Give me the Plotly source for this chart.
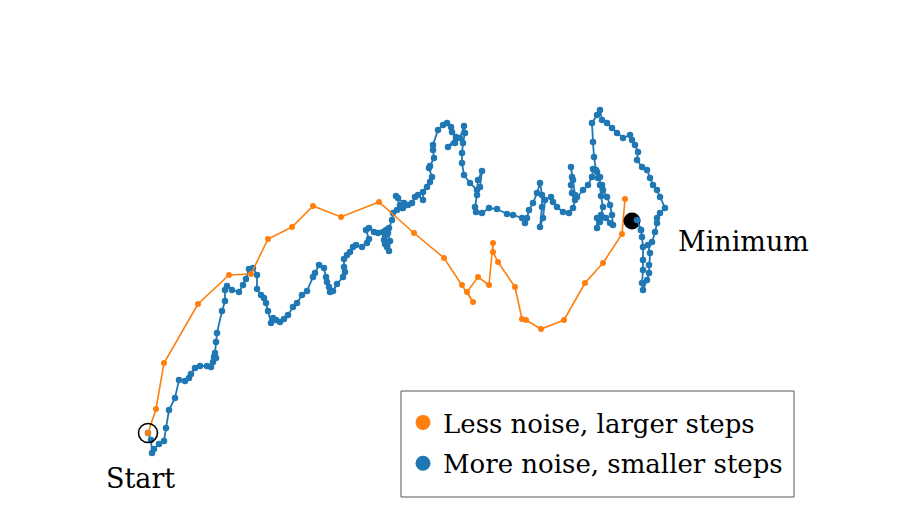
import plotly.graph_objects as go

W, H = 914, 520

# Orange path (less noise, larger steps) - picture coordinates (x right, y down)
orange_x = [148, 156, 164, 198, 229, 251, 268, 292, 313, 341, 379, 414, 444, 462, 473, 467, 478, 489, 493, 493, 498, 515, 522, 526, 541, 564, 585, 603, 622, 625]
orange_y = [433, 409, 363, 304, 275, 274, 239, 227, 206, 217, 202, 233, 258, 285, 302, 292, 277, 285, 243, 252, 262, 287, 319, 320, 329, 320, 283, 263, 234, 199]

# Blue path (more noise, smaller steps)
blue_pts = [
    (148, 433), (151, 440), (152, 453), (154, 449), (159, 444), (164, 441), (166, 428), (169, 410),
    (175, 398), (179, 380), (185, 381), (189, 378), (191, 374), (195, 368), (200, 366), (207, 366),
    (211, 367), (213, 362), (214, 357), (216, 358), (215, 353), (216, 342), (217, 333), (222, 311),
    (225, 301), (225, 290), (227, 286), (232, 290), (239, 292), (243, 285), (246, 279), (249, 269),
    (253, 268), (257, 275), (257, 289), (261, 295), (264, 298), (266, 303), (268, 311), (271, 323),
    (273, 318), (276, 320), (280, 322), (284, 319), (288, 315), (293, 307), (297, 303), (302, 295),
    (307, 291), (313, 277), (315, 273), (319, 265), (324, 268), (326, 277), (327, 282), (329, 287),
    (330, 292), (333, 291), (337, 284), (343, 277), (345, 272), (344, 267), (344, 259), (347, 255),
    (350, 252), (353, 247), (356, 245), (362, 247), (367, 243), (369, 239), (366, 230), (369, 228),
    (374, 232), (378, 233), (383, 232), (386, 230), (385, 236), (384, 240), (385, 244), (387, 247),
    (389, 251), (390, 241), (388, 233), (389, 228), (392, 220), (393, 213), (397, 210), (402, 208),
    (404, 203), (398, 198), (396, 196), (400, 205), (403, 208), (408, 205), (412, 203), (415, 197),
    (418, 195), (423, 200), (423, 192), (427, 187), (430, 182), (432, 177), (429, 168), (430, 166),
    (434, 158), (433, 150), (433, 145), (438, 130), (443, 125), (447, 123), (451, 127), (452, 132),
    (456, 137), (448, 147), (455, 143), (460, 138), (464, 126), (465, 133), (463, 143), (462, 153),
    (462, 163), (464, 175), (470, 183), (477, 190), (478, 180), (482, 171), (480, 187), (477, 195),
    (475, 207), (476, 212), (482, 213), (489, 208), (497, 209), (507, 214), (513, 215), (522, 218),
    (525, 223), (527, 218), (529, 210), (533, 203), (537, 193), (540, 183), (542, 195), (542, 207),
    (540, 227), (543, 218), (545, 200), (551, 197), (553, 202), (557, 207), (563, 212), (569, 213),
    (573, 208), (575, 200), (572, 193), (571, 185), (572, 177), (571, 167), (573, 180), (575, 195),
    (577, 197), (583, 190), (588, 185), (592, 177), (593, 169), (597, 172), (598, 178), (602, 185),
    (603, 190), (607, 197), (610, 205), (612, 215), (613, 225), (610, 223), (606, 218), (602, 217),
    (600, 222), (597, 228), (597, 218), (601, 215), (603, 207), (601, 196), (600, 185), (600, 177),
    (596, 170), (594, 157), (593, 142), (592, 123), (597, 115), (600, 110), (602, 120), (607, 123),
    (612, 128), (617, 133), (623, 138), (630, 135), (632, 140), (635, 145), (638, 152), (637, 160),
    (642, 167), (647, 170), (650, 178), (653, 185), (657, 190), (660, 197), (665, 208), (660, 213),
    (657, 218), (657, 223), (655, 232), (652, 242), (648, 245), (650, 253), (649, 265), (649, 273),
    (647, 280), (643, 290), (642, 283), (643, 270), (643, 260), (643, 247), (642, 237), (641, 230),
    (637, 220),
]
blue_x = [p[0] for p in blue_pts]
blue_y = [p[1] for p in blue_pts]

start_xy = (148, 433)
min_xy = (632, 221)

legend_labels = ["Less noise, larger steps", "More noise, smaller steps"]
ORANGE = "#ff7f0e"
BLUE = "#1f77b4"
FONT = "DejaVu Serif"

fig = go.Figure()
fig.add_trace(go.Scatter(x=blue_x, y=blue_y, mode="lines+markers",
                         line=dict(color=BLUE, width=1.8),
                         marker=dict(color=BLUE, size=6.5), showlegend=False, hoverinfo="skip"))
fig.add_trace(go.Scatter(x=orange_x, y=orange_y, mode="lines+markers",
                         line=dict(color=ORANGE, width=1.6),
                         marker=dict(color=ORANGE, size=6), showlegend=False, hoverinfo="skip"))
fig.add_trace(go.Scatter(x=[start_xy[0]], y=[start_xy[1]], mode="markers",
                         marker=dict(symbol="circle-open", size=19, color="black",
                                     line=dict(width=1.6, color="black")),
                         showlegend=False, hoverinfo="skip"))
fig.add_trace(go.Scatter(x=[min_xy[0]], y=[min_xy[1]], mode="markers",
                         marker=dict(symbol="circle", size=17, color="black"),
                         showlegend=False, hoverinfo="skip"))
# redraw blue end over minimum marker
fig.add_trace(go.Scatter(x=blue_x[-2:], y=blue_y[-2:], mode="lines+markers",
                         line=dict(color=BLUE, width=1.8),
                         marker=dict(color=BLUE, size=6.5), showlegend=False, hoverinfo="skip"))
# legend entries
fig.add_trace(go.Scatter(x=[None], y=[None], mode="markers", name=legend_labels[0],
                         legendgroup="a", marker=dict(color=ORANGE, size=15), legendrank=1))
fig.add_trace(go.Scatter(x=[None], y=[None], mode="markers", name=legend_labels[1],
                         legendgroup="b", marker=dict(color=BLUE, size=15), legendrank=2))

fig.add_annotation(x=140, y=478, text="Start", showarrow=False,
                   font=dict(family=FONT, size=27, color="black"), xanchor="center", yanchor="middle")
fig.add_annotation(x=676, y=241, text="Minimum", showarrow=False,
                   font=dict(family=FONT, size=27, color="black"), xanchor="left", yanchor="middle")

# legend frame
fig.add_shape(type="rect", xref="paper", yref="paper",
              x0=401 / W, x1=794 / W, y0=1 - 497 / H, y1=1 - 391 / H,
              line=dict(color="#555555", width=1), fillcolor="white", layer="above")

fig.update_layout(
    width=W, height=H, margin=dict(l=0, r=0, t=0, b=0),
    plot_bgcolor="white", paper_bgcolor="white",
    xaxis=dict(range=[0, W], visible=False, fixedrange=True),
    yaxis=dict(range=[H, 0], visible=False, fixedrange=True),
    legend=dict(x=403 / W, y=1 - 399 / H, xanchor="left", yanchor="top",
                borderwidth=0, bgcolor="rgba(0,0,0,0)", tracegroupgap=4,
                font=dict(family=FONT, size=26, color="black")),
    showlegend=True,
)

fig.write_html("out.html")
